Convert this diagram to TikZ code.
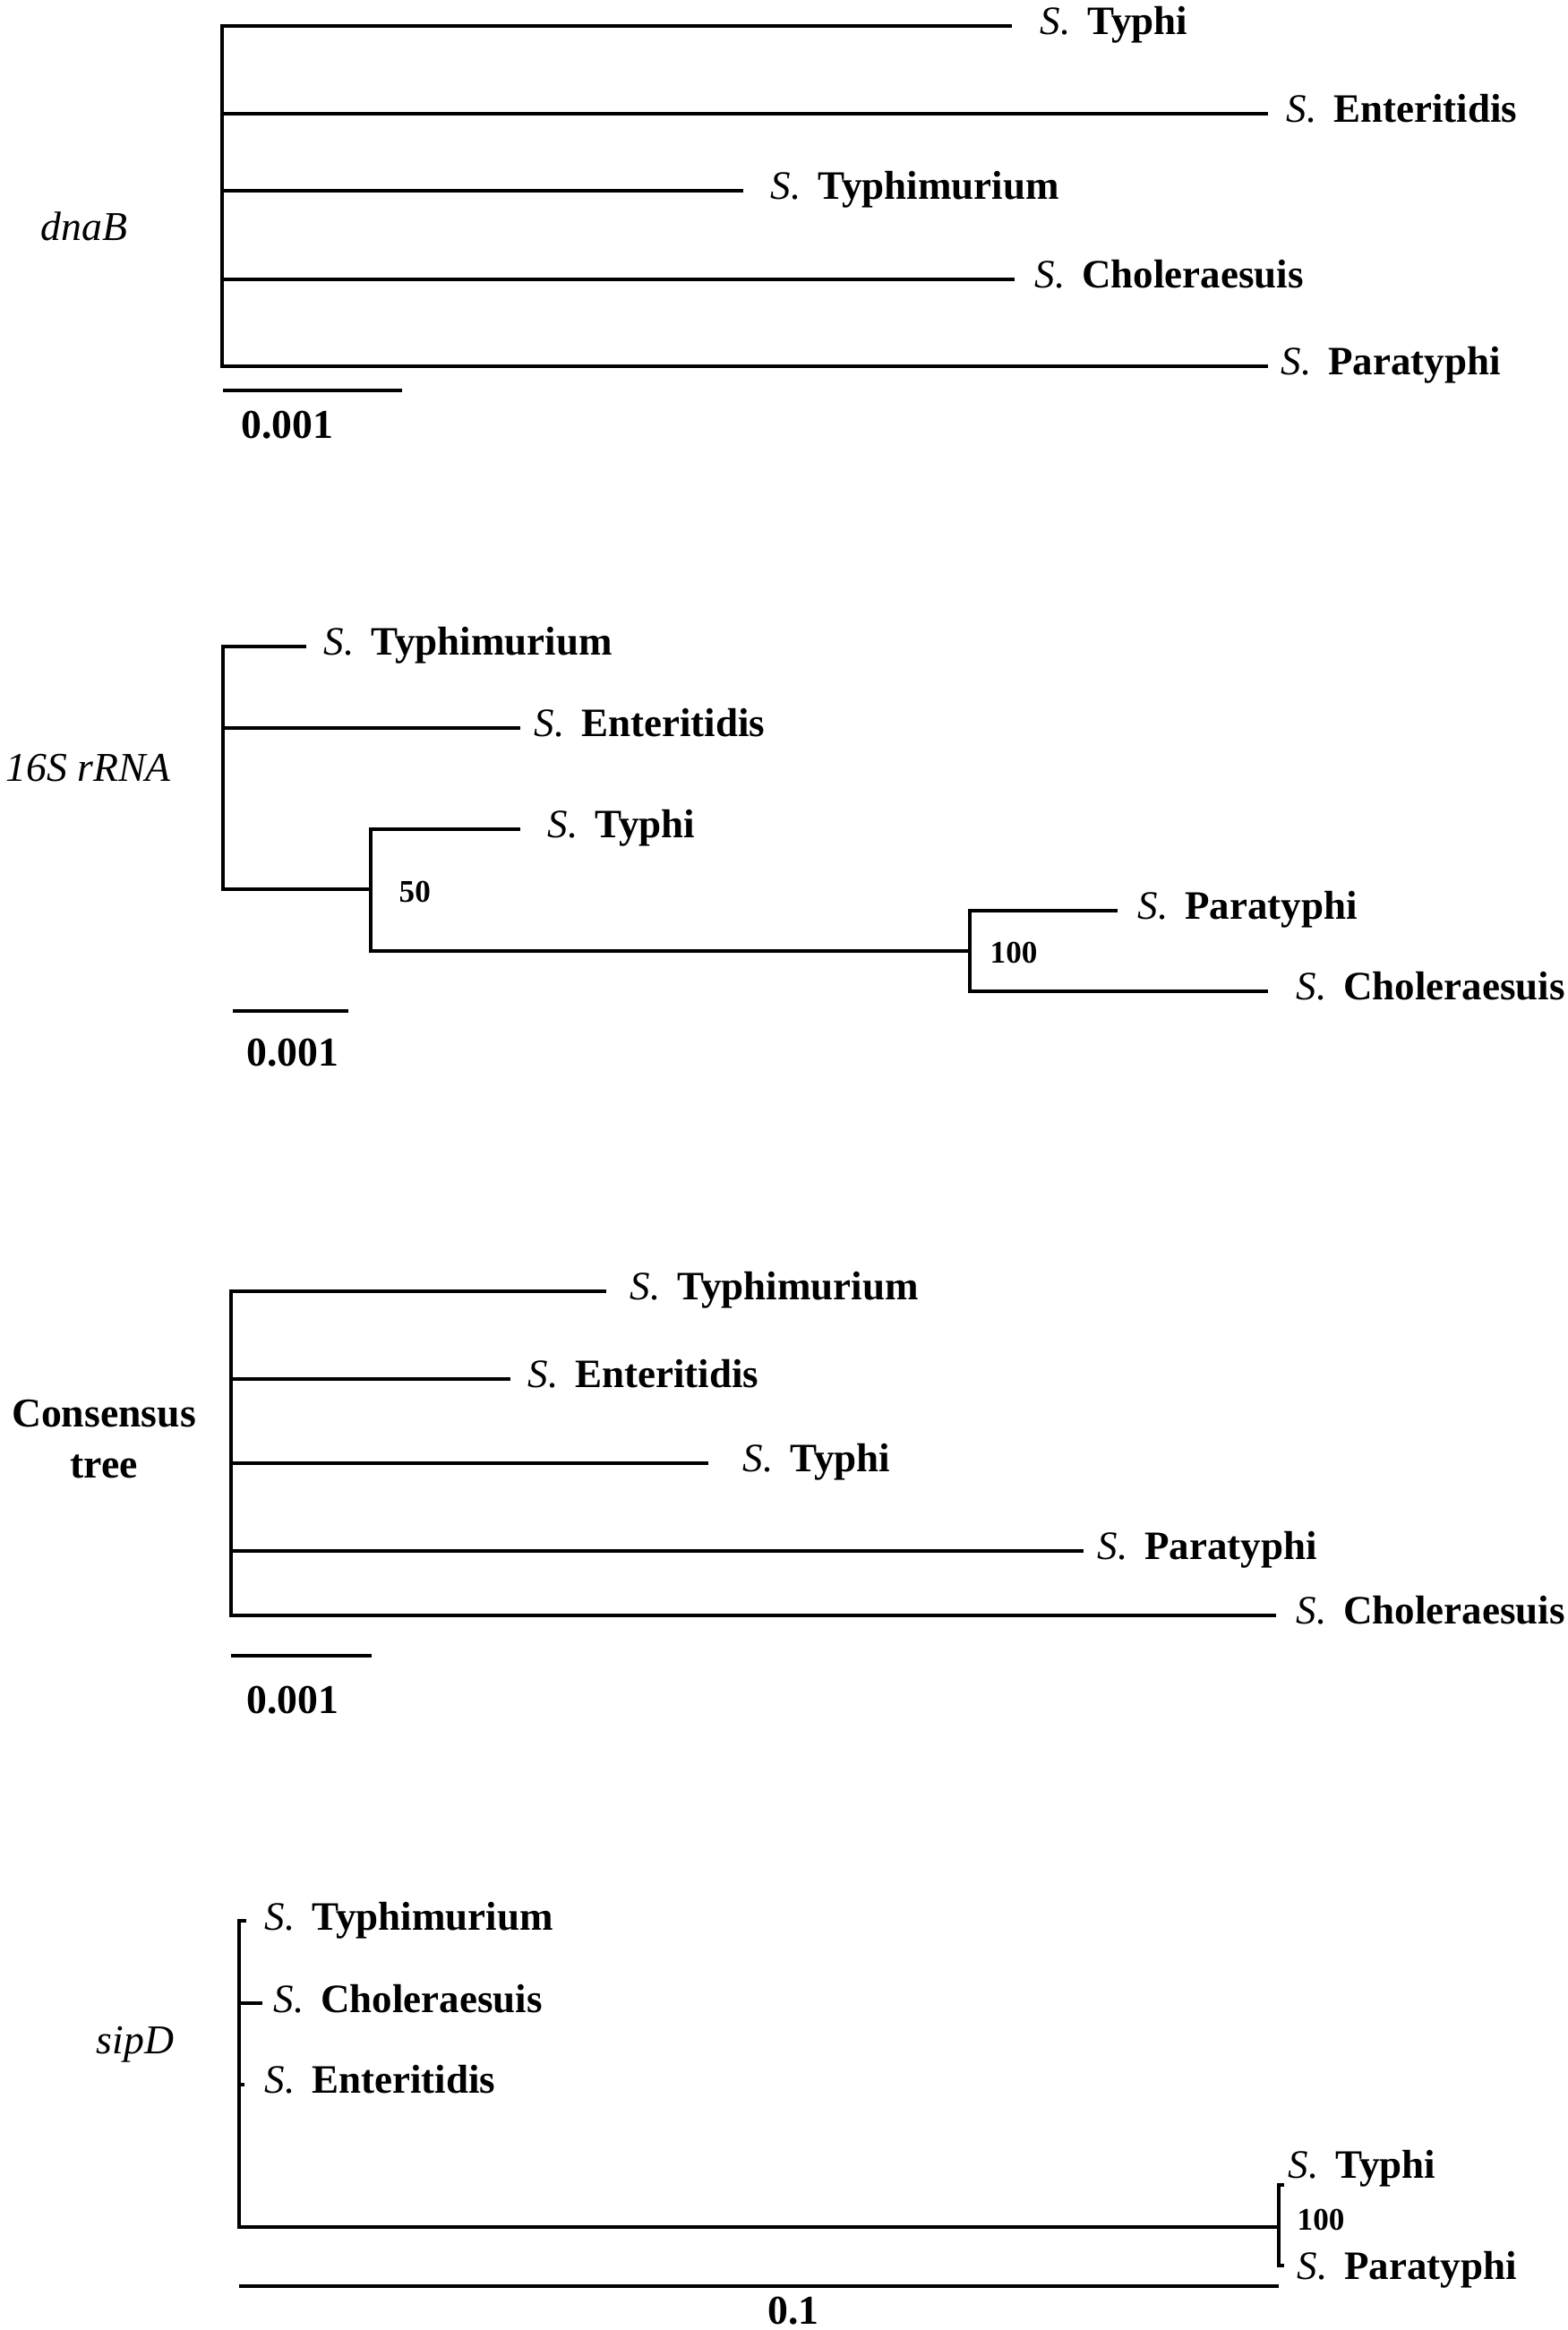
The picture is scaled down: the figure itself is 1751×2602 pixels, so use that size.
\documentclass[tikz,border=0pt]{standalone}
\usepackage{fontspec}
\setmainfont{Liberation Serif}
\newcommand{\salm}[1]{\textit{S.}\hspace{0.42em}\textbf{#1}}
\begin{document}
\begin{tikzpicture}[x=0.01cm,y=-0.01cm,
  br/.style={line width=0.95pt, line join=miter},
  lab/.style={anchor=base west, inner sep=0pt, xshift=-0.04cm, font=\fontsize{12.8}{15}\selectfont},
  boot/.style={anchor=base west, inner sep=0pt, font=\fontsize{10}{12}\selectfont\bfseries},
  scl/.style={anchor=base west, inner sep=0pt, font=\fontsize{13}{15}\selectfont\bfseries},
  gene/.style={anchor=base west, inner sep=0pt, font=\fontsize{13}{15}\selectfont\itshape}]
\useasboundingbox (0,0) rectangle (1751,2602);

% ---------- dnaB ----------
\coordinate (d0) at (248,219);
\coordinate (d1) at (1130,29);
\coordinate (d2) at (1416,127);
\coordinate (d3) at (830,213);
\coordinate (d4) at (1133,312);
\coordinate (d5) at (1416,409);
\draw[br] (d1) -| (d0) |- (d5);
\draw[br] (d0 |- d2) -- (d2);
\draw[br] (d0 |- d3) -- (d3);
\draw[br] (d0 |- d4) -- (d4);
\node[lab] (ld1) at (1165,38) {\salm{Typhi}};
\node[lab] (ld2) at (1440,136) {\salm{Enteritidis}};
\node[lab] (ld3) at (864,222) {\salm{Typhimurium}};
\node[lab] (ld4) at (1159,321) {\salm{Choleraesuis}};
\node[lab] (ld5) at (1434,418) {\salm{Paratyphi}};
\coordinate (sa1) at (249,436);
\coordinate (sa2) at (449,436);
\draw[br] (sa1) -- (sa2);
\node[scl] (sca) at (269,489) {0.001};
\node[gene] (gd) at (45,268) {dnaB};

% ---------- 16S rRNA ----------
\coordinate (r2) at (249,857);
\coordinate (e1) at (342,722);
\coordinate (e2) at (581,813);
\coordinate (a2) at (414,993);
\coordinate (e3) at (581,926);
\coordinate (b2) at (1083,1062);
\coordinate (e4) at (1248,1017);
\coordinate (e5) at (1416,1107);
\draw[br] (e1) -| (r2) |- (a2);
\draw[br] (r2 |- e2) -- (e2);
\draw[br] (e3) -| (a2) |- (b2);
\draw[br] (e4) -| (b2) |- (e5);
\node[lab] (le1) at (365,731) {\salm{Typhimurium}};
\node[lab] (le2) at (600,822) {\salm{Enteritidis}};
\node[lab] (le3) at (615,935) {\salm{Typhi}};
\node[lab] (le4) at (1274,1026) {\salm{Paratyphi}};
\node[lab] (le5) at (1451,1116) {\salm{Choleraesuis}};
\node[boot] (bt1) at (445,1007) {50};
\node[boot] (bt2) at (1105,1075) {100};
\coordinate (sb1) at (260,1129);
\coordinate (sb2) at (389,1129);
\draw[br] (sb1) -- (sb2);
\node[scl] (scb) at (275,1190) {0.001};
\node[gene] (gr) at (6,872) {16S rRNA};

% ---------- Consensus ----------
\coordinate (r3) at (258,1623);
\coordinate (c1) at (677,1442);
\coordinate (c2) at (570,1540);
\coordinate (c3) at (791,1634);
\coordinate (c4) at (1210,1732);
\coordinate (c5) at (1425,1804);
\draw[br] (c1) -| (r3) |- (c5);
\draw[br] (r3 |- c2) -- (c2);
\draw[br] (r3 |- c3) -- (c3);
\draw[br] (r3 |- c4) -- (c4);
\node[lab] (lc1) at (707,1451) {\salm{Typhimurium}};
\node[lab] (lc2) at (593,1549) {\salm{Enteritidis}};
\node[lab] (lc3) at (833,1643) {\salm{Typhi}};
\node[lab] (lc4) at (1229,1741) {\salm{Paratyphi}};
\node[lab] (lc5) at (1451,1813) {\salm{Choleraesuis}};
\coordinate (sc1) at (258,1849);
\coordinate (sc2) at (415,1849);
\draw[br] (sc1) -- (sc2);
\node[scl] (scc) at (275,1913) {0.001};
\node[scl, anchor=base] (gc1) at (116,1593) {Consensus};
\node[scl, anchor=base] (gc2) at (116,1650) {tree};

% ---------- sipD ----------
\coordinate (r4) at (267,2316);
\coordinate (s1) at (275,2145);
\coordinate (s2) at (293,2237);
\coordinate (s3) at (273,2328);
\coordinate (n4) at (1428,2487);
\coordinate (s4) at (1434,2440);
\coordinate (s5) at (1434,2530);
\draw[br] (s1) -| (r4) |- (n4);
\draw[br] (r4 |- s2) -- (s2);
\draw[br] (r4 |- s3) -- (s3);
\draw[br] (s4) -| (n4) |- (s5);
\node[lab] (ls1) at (299,2155) {\salm{Typhimurium}};
\node[lab] (ls2) at (309,2247) {\salm{Choleraesuis}};
\node[lab] (ls3) at (299,2337) {\salm{Enteritidis}};
\node[lab] (ls4) at (1442,2432) {\salm{Typhi}};
\node[lab] (ls5) at (1452,2545) {\salm{Paratyphi}};
\node[boot] (bt3) at (1448,2490) {100};
\coordinate (sd1) at (267,2553);
\coordinate (sd2) at (1428,2553);
\draw[br] (sd1) -- (sd2);
\node[scl, anchor=base] (scd) at (886,2595) {0.1};
\node[gene] (gs) at (107,2293) {sipD};
\end{tikzpicture}
\end{document}
